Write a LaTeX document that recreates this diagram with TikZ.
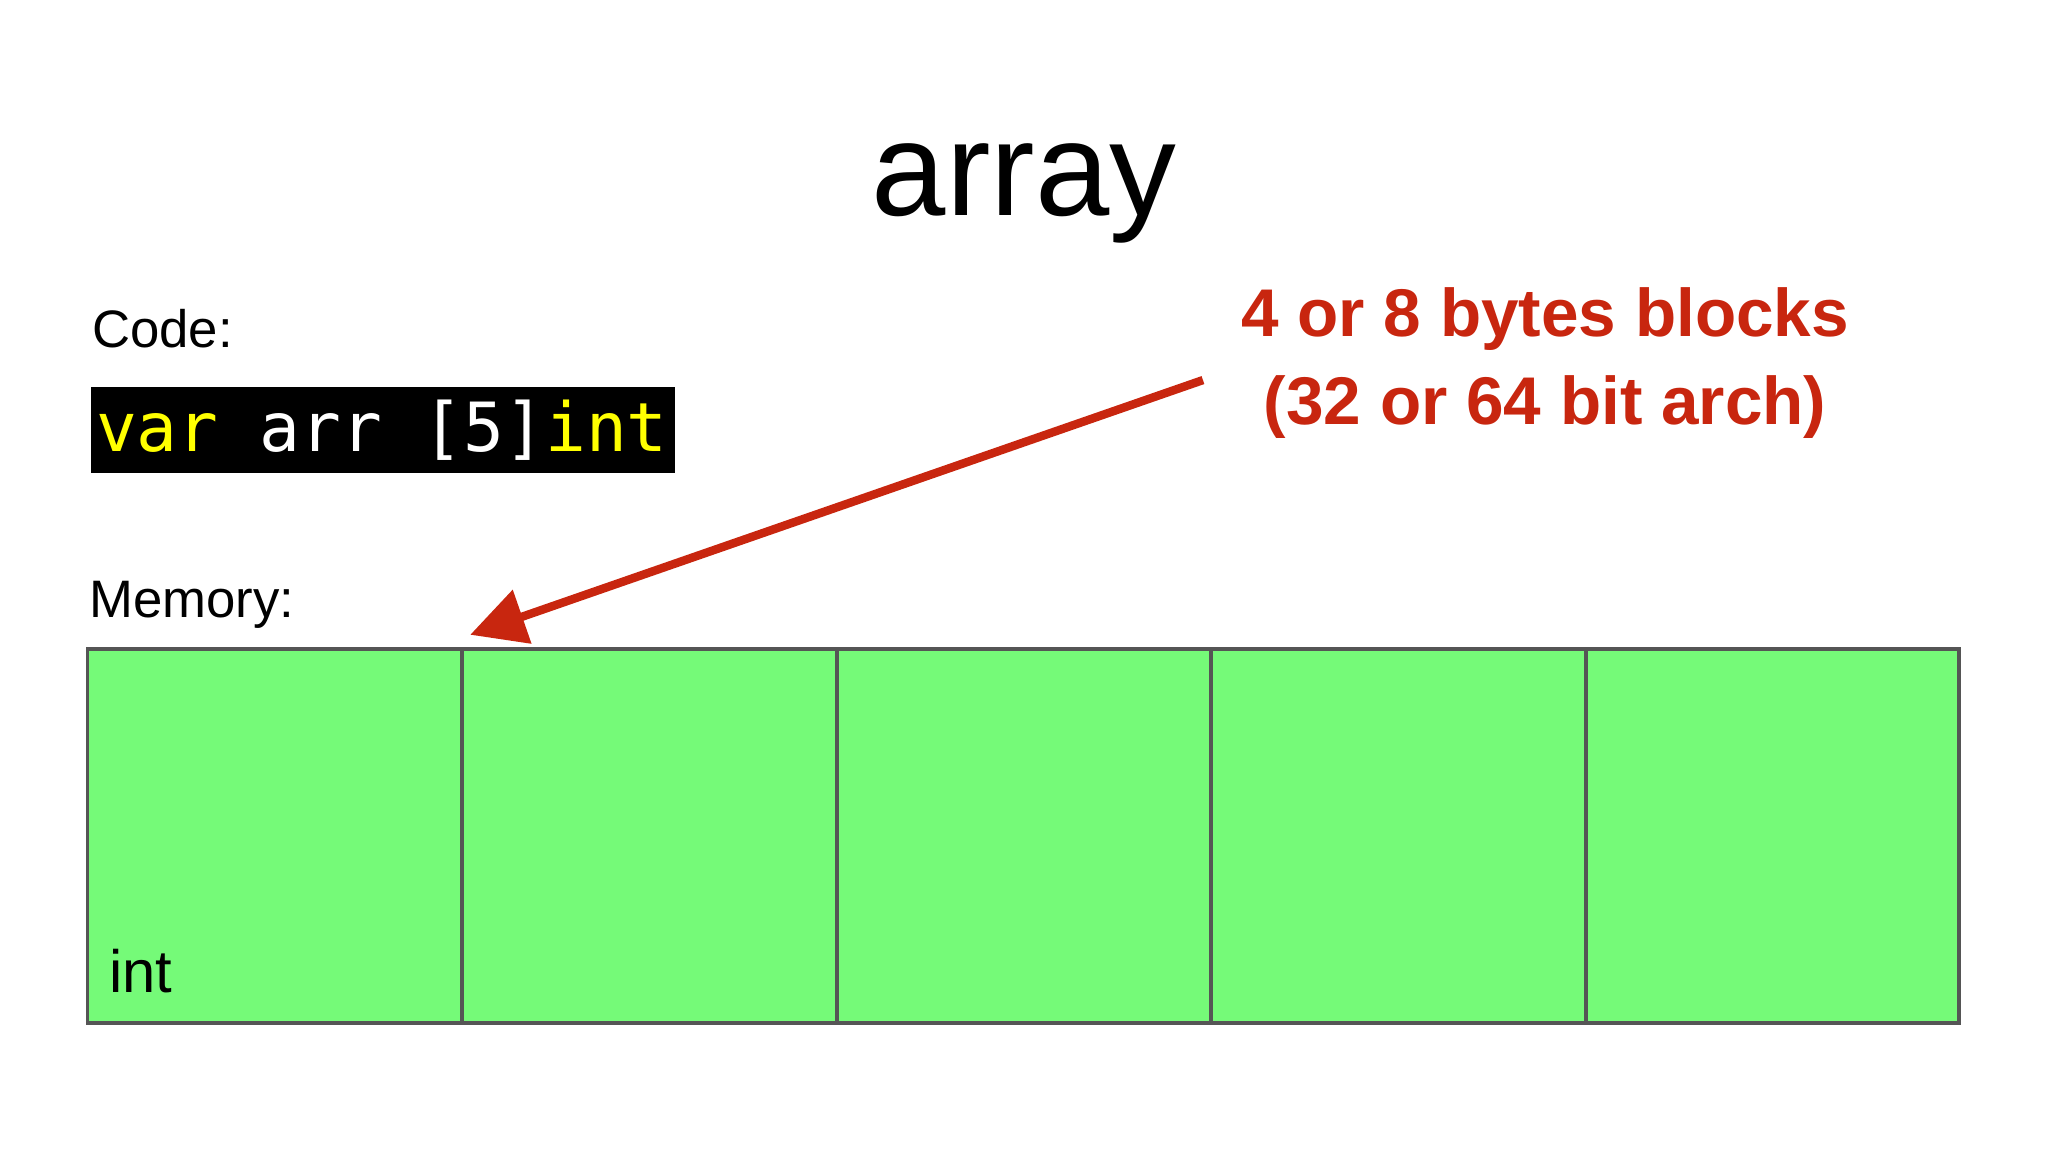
\documentclass[tikz,border=0pt]{standalone}
\usepackage{fontspec}
\setmainfont{Liberation Sans}
\newfontfamily\codefont{DejaVu Sans Mono}
\usetikzlibrary{arrows.meta}
\definecolor{cellgreen}{HTML}{75FA78}
\definecolor{cellborder}{HTML}{555555}
\definecolor{notered}{HTML}{C8260F}
\definecolor{codeyellow}{HTML}{FFFF00}
\begin{document}
\begin{tikzpicture}[x=0.01306cm,y=-0.01306cm,
  cell/.style={draw=cellborder,line width=1.1pt,fill=cellgreen},
  lbl/.style={anchor=base west,inner sep=0pt,font=\fontsize{15}{18}\selectfont}]
\useasboundingbox (0,0) rectangle (1568,882);
\node[inner sep=0pt,anchor=base,font=\fontsize{38}{42}\selectfont] (title) at (784,165) {array};
\node[lbl] (code) at (70,266) {Code:};
\fill[black] (70,296) rectangle (517,362) coordinate (codecorner);
\node[anchor=base west,inner sep=0pt,font=\codefont\fontsize{19.3}{22}\selectfont] (codebox) at (73,346)
  {\color{codeyellow}var\color{white}\ arr\ [5]\color{codeyellow}int};
\node[lbl] (mem) at (68,473) {Memory:};
\foreach \i/\a/\b in {1/67/354,2/354/641,3/641/927,4/927/1214,5/1214/1500}
  \draw[cell] (\a,497) rectangle (\b,783) coordinate (c\i);
\node[lbl,font=\fontsize{17}{19}\selectfont] (int) at (83,760) {int};
\node[align=center,text=notered,font=\bfseries\fontsize{19.2}{25}\selectfont,inner sep=0pt] (note) at (1183,278) {4 or 8 bytes blocks\\(32 or 64 bit arch)};
\coordinate (tail) at (921,291);
\coordinate (tip) at (360,486);
\draw[notered,line width=2.4pt,-{Triangle[length=0.55cm,width=0.55cm]}] (tail) -- (tip);
\end{tikzpicture}
\end{document}
